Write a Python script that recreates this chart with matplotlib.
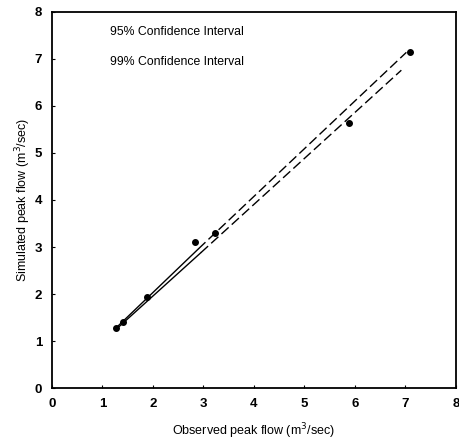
import matplotlib
matplotlib.use('Agg')
import matplotlib.pyplot as plt

# observed vs simulated peak flow (m3/sec)
observados = [1.27, 1.40, 1.89, 2.83, 3.23, 5.88, 7.10]
simulados = [1.28, 1.40, 1.94, 3.10, 3.29, 5.63, 7.14]

# confidence interval lines: solid part then dashed part
sup_x_solido = [1.25, 2.90]
sup_y_solido = [1.26, 2.96]
sup_x_trazos = [2.90, 7.02]
sup_y_trazos = [2.96, 7.14]

inf_x_solido = [1.25, 2.95]
inf_y_solido = [1.23, 2.88]
inf_x_trazos = [2.95, 6.92]
inf_y_trazos = [2.88, 6.76]

textos_leyenda = ['95% Confidence Interval', '99% Confidence Interval']

plt.rcParams['font.family'] = ['Liberation Sans', 'DejaVu Sans']

fig = plt.figure(figsize=(4.6, 4.41), dpi=100)
ax = fig.add_axes([0.113, 0.120, 0.878, 0.853])

ax.plot(sup_x_solido, sup_y_solido, color='black', lw=1.0)
ax.plot(sup_x_trazos, sup_y_trazos, color='black', lw=1.0, dashes=(7, 3))
ax.plot(inf_x_solido, inf_y_solido, color='black', lw=1.0)
ax.plot(inf_x_trazos, inf_y_trazos, color='black', lw=1.0, dashes=(7, 3))

ax.plot(observados, simulados, 'o', color='black', markersize=4)

ax.text(1.15, 7.57, textos_leyenda[0], fontsize=8.8, va='center')
ax.text(1.15, 6.94, textos_leyenda[1], fontsize=8.8, va='center')

ax.set_xlim(0, 8)
ax.set_ylim(0, 8)
ax.set_xticks(range(0, 9))
ax.set_yticks(range(0, 9))
ax.tick_params(direction='in', length=2, width=0.8, labelsize=9.5, pad=7)
for lbl in ax.get_xticklabels() + ax.get_yticklabels():
    lbl.set_fontweight('bold')
for s in ax.spines.values():
    s.set_linewidth(1.3)

ax.set_xlabel('Observed peak flow (m$^3$/sec)', fontsize=9, labelpad=8)
ax.set_ylabel('Simulated peak flow (m$^3$/sec)', fontsize=9, labelpad=1)

fig.savefig('out.png', dpi=100)
plt.close()
